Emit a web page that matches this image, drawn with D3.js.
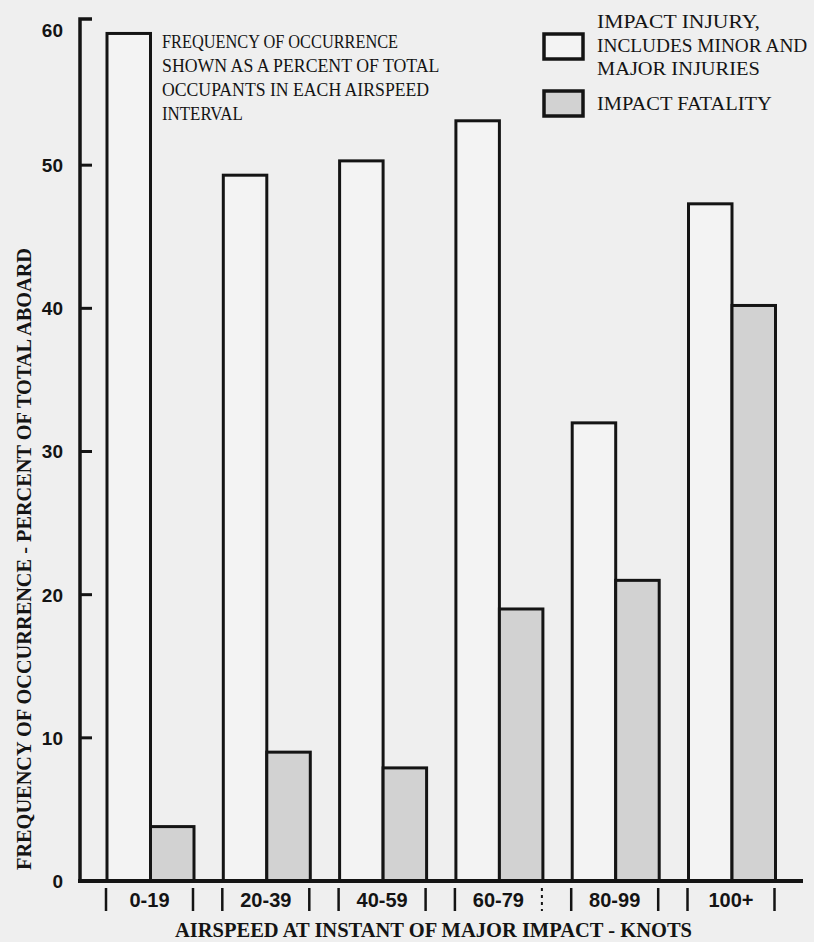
<!DOCTYPE html>
<html>
<head>
<meta charset="utf-8">
<script src="https://cdn.jsdelivr.net/npm/d3@7"></script>
<style>
  html, body { margin: 0; padding: 0; background: #efefef; }
  svg { display: block; }
</style>
</head>
<body>
<svg id="chart" width="814" height="942"></svg>
<script>
// ---- data ----
const categories = ["0-19", "20-39", "40-59", "60-79", "80-99", "100+"];
const injury = [59.2, 49.3, 50.3, 53.1, 32.0, 47.3];
const fatality = [3.8, 9.0, 7.9, 19.0, 21.0, 40.2];
const yTicks = [0, 10, 20, 30, 40, 50, 60];
const seriesKeys = ["injury", "fatality"];
const injuryLegend = ["IMPACT INJURY,", "INCLUDES MINOR AND", "MAJOR INJURIES"];
const fatalityLegend = ["IMPACT FATALITY"];
const noteLines = ["FREQUENCY OF OCCURRENCE", "SHOWN AS A PERCENT OF TOTAL", "OCCUPANTS IN EACH AIRSPEED", "INTERVAL"];
const xTitle = "AIRSPEED AT INSTANT OF MAJOR IMPACT - KNOTS";
const yTitle = "FREQUENCY OF OCCURRENCE - PERCENT OF TOTAL ABOARD";

const rows = categories.map((c, i) => ({ cat: c, injury: injury[i], fatality: fatality[i] }));

const svg = d3.select("#chart");
const ink = "#141414";
const fills = { injury: "#f3f3f3", fatality: "#d2d2d2" };
const typeFont = "Liberation Serif, 'DejaVu Serif', serif";

const y = d3.scaleLinear().domain([0, 60]).range([881, 22]);
const x = d3.scaleBand().domain(categories).range([92.35, 790.15]).paddingInner(0.252).paddingOuter(0.126);
const xs = d3.scaleBand().domain(seriesKeys).range([0, x.bandwidth()]);

// bars
const g = svg.append("g");
rows.forEach(r => {
  seriesKeys.forEach(k => {
    g.append("rect")
      .attr("x", x(r.cat) + xs(k))
      .attr("y", y(r[k]))
      .attr("width", xs.bandwidth())
      .attr("height", y(0) - y(r[k]))
      .attr("fill", fills[k])
      .attr("stroke", ink)
      .attr("stroke-width", 3);
  });
});

// y axis line with hook at top
const axisX = 80;
svg.append("path")
  .attr("d", `M${axisX},${y(0) + 2} L${axisX},${y(60) - 3} L${axisX + 12},${y(60) - 3}`)
  .attr("fill", "none").attr("stroke", ink).attr("stroke-width", 3.5);

// y ticks (inward)
svg.append("g").selectAll("line").data(yTicks.filter(t => t > 0 && t < 60)).join("line")
  .attr("x1", axisX).attr("x2", axisX + 12)
  .attr("y1", d => y(d)).attr("y2", d => y(d))
  .attr("stroke", ink).attr("stroke-width", 3);

// y tick labels
svg.append("g").selectAll("text").data(yTicks).join("text")
  .attr("x", 63)
  .attr("y", d => y(d) + (d === 60 ? 8 : 0))
  .attr("dy", "0.36em")
  .attr("text-anchor", "end")
  .attr("font-family", "Liberation Sans, Arial, sans-serif")
  .attr("font-weight", "bold")
  .attr("font-size", 19)
  .attr("fill", ink)
  .text(d => d);

// baseline
svg.append("line")
  .attr("x1", axisX - 2).attr("x2", 803)
  .attr("y1", y(0)).attr("y2", y(0))
  .attr("stroke", ink).attr("stroke-width", 4);

// x category markers and labels
const xg = svg.append("g");
categories.forEach((c, i) => {
  const x0 = x(c), x1 = x(c) + x.bandwidth();
  xg.append("line").attr("x1", x0 - 1).attr("x2", x0 - 1).attr("y1", 888).attr("y2", 911)
    .attr("stroke", ink).attr("stroke-width", 2.5);
  xg.append("line").attr("x1", x1 - 1).attr("x2", x1 - 1).attr("y1", 888).attr("y2", 911)
    .attr("stroke", ink).attr("stroke-width", c === "60-79" ? 2 : 2.5)
    .attr("stroke-dasharray", c === "60-79" ? "3,4" : null);
  xg.append("text")
    .attr("x", x0 + x.bandwidth() / 2 - 1)
    .attr("y", 907)
    .attr("text-anchor", "middle")
    .attr("font-family", "Liberation Sans, Arial, sans-serif")
    .attr("font-weight", "bold")
    .attr("font-size", 20)
    .attr("fill", ink)
    .text(c);
});

// x title
svg.append("text")
  .attr("x", 175).attr("y", 937)
  .attr("font-family", typeFont)
  .attr("font-weight", "bold")
  .attr("font-size", 21)
  .attr("textLength", 517)
  .attr("lengthAdjust", "spacingAndGlyphs")
  .attr("fill", ink)
  .text(xTitle);

// y title
svg.append("text")
  .attr("transform", "translate(31,870) rotate(-90)")
  .attr("x", 0).attr("y", 0)
  .attr("font-family", typeFont)
  .attr("font-weight", "bold")
  .attr("font-size", 20)
  .attr("textLength", 622)
  .attr("lengthAdjust", "spacingAndGlyphs")
  .attr("fill", ink)
  .text(yTitle);

// note text
svg.append("g").selectAll("text").data(noteLines).join("text")
  .attr("x", 162)
  .attr("y", (d, i) => 48 + i * 24)
  .attr("font-family", typeFont)
  .attr("font-size", 19.5)
  .attr("textLength", d => d.length * 10.35 - 2)
  .attr("lengthAdjust", "spacingAndGlyphs")
  .attr("fill", ink)
  .text(d => d);

// legend
const leg = svg.append("g");
leg.append("rect").attr("x", 544).attr("y", 34).attr("width", 39).attr("height", 25)
  .attr("fill", fills.injury).attr("stroke", ink).attr("stroke-width", 3.5);
leg.append("rect").attr("x", 544).attr("y", 91).attr("width", 39).attr("height", 25)
  .attr("fill", fills.fatality).attr("stroke", ink).attr("stroke-width", 3.5);
leg.selectAll("text.inj").data(injuryLegend).join("text")
  .attr("x", 597)
  .attr("y", (d, i) => 28 + i * 23.5)
  .attr("font-family", typeFont)
  .attr("font-size", 19.5)
  .attr("textLength", d => d.length * 11.85 - 3)
  .attr("lengthAdjust", "spacingAndGlyphs")
  .attr("fill", ink)
  .text(d => d);
leg.selectAll("text.fat").data(fatalityLegend).join("text")
  .attr("x", 597)
  .attr("y", 110)
  .attr("font-family", typeFont)
  .attr("font-size", 19.5)
  .attr("textLength", d => d.length * 11.85 - 3)
  .attr("lengthAdjust", "spacingAndGlyphs")
  .attr("fill", ink)
  .text(d => d);
</script>
</body>
</html>
